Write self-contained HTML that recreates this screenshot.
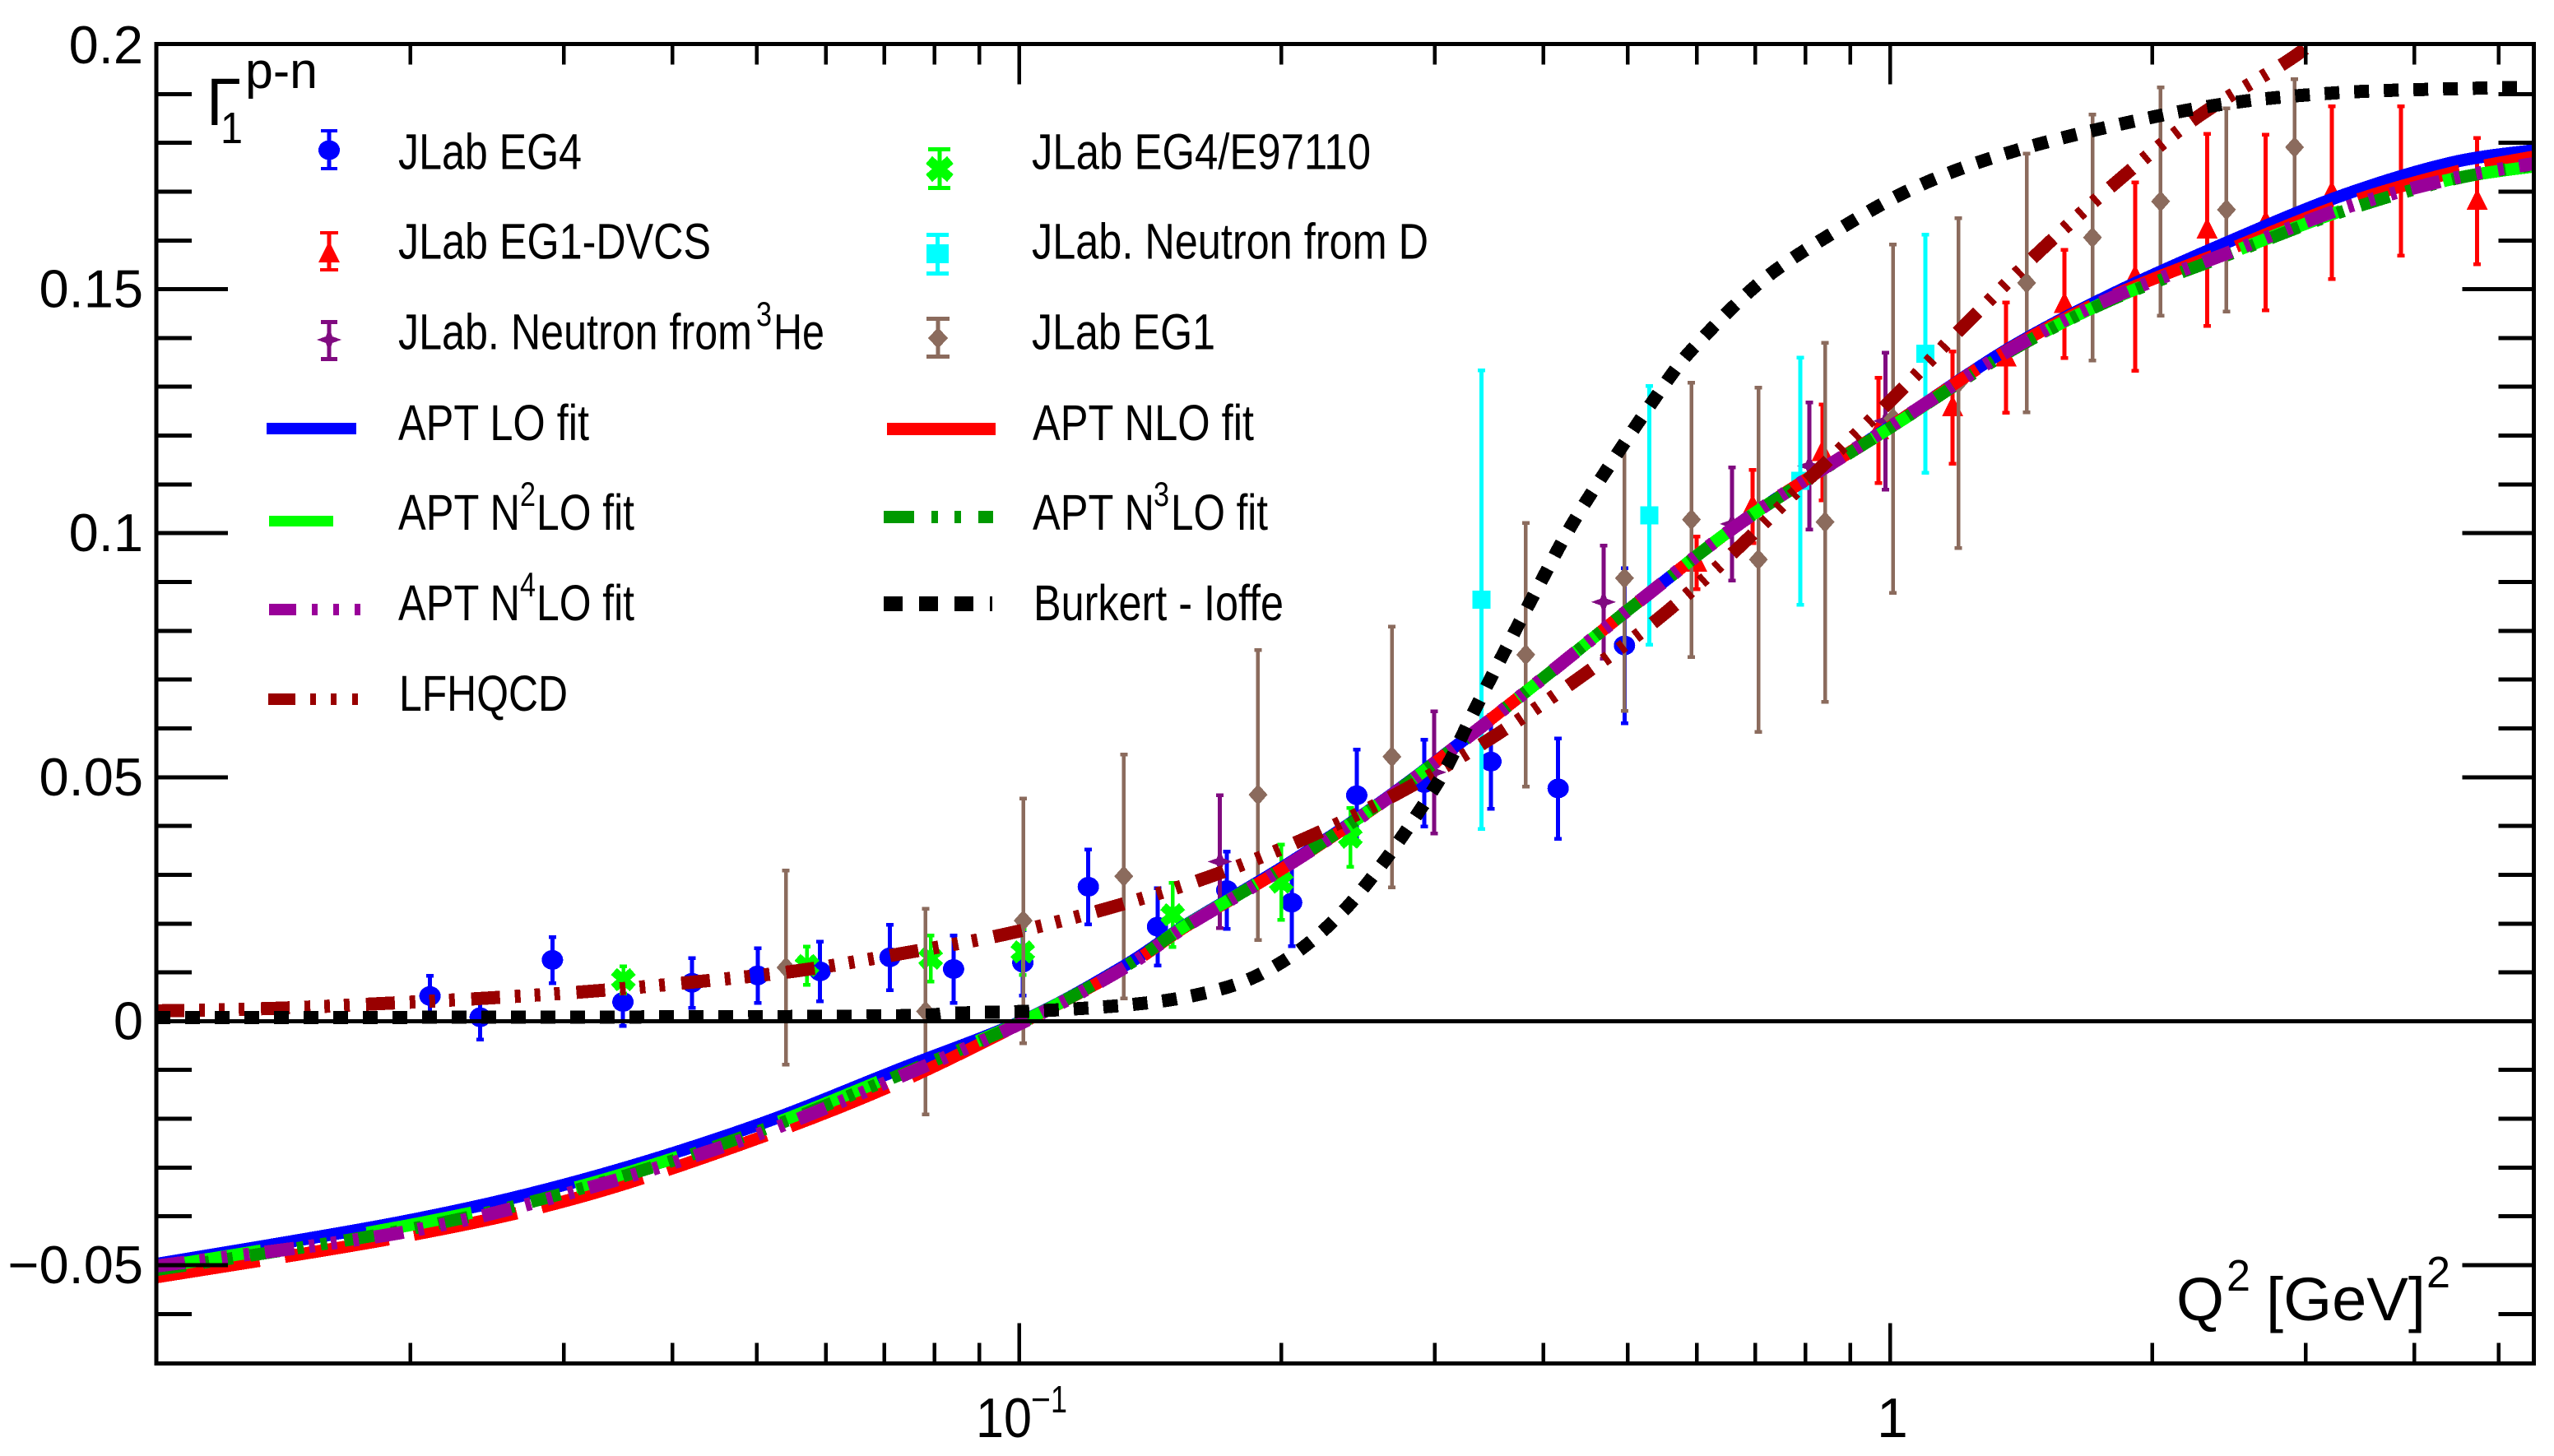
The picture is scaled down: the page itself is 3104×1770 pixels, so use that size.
<!DOCTYPE html>
<html lang="en">
<head>
<meta charset="utf-8">
<title>Gamma1 p-n versus Q2</title>
<style>
html,body{margin:0;padding:0;background:#fff;width:3104px;height:1770px;overflow:hidden}
svg{display:block}
text{font-family:"Liberation Sans",sans-serif;fill:#000}
</style>
</head>
<body>
<svg id="chart" xmlns="http://www.w3.org/2000/svg" width="3104" height="1770" viewBox="0 0 3104 1770">
  <defs>
    <clipPath id="plot-clip"><rect x="190" y="53" width="2890" height="1605"/></clipPath>
  </defs>
  <rect x="0" y="0" width="3104" height="1770" fill="#fff"/>
  <g id="points-layer" clip-path="url(#plot-clip)" shape-rendering="crispEdges"></g>
  <g id="curves-layer" clip-path="url(#plot-clip)" fill="none"></g>
  <g id="axes-layer"></g>

  <g>
    <text x="251" y="152" font-size="82" textLength="42" lengthAdjust="spacingAndGlyphs">Γ</text>
    <text x="268" y="174" font-size="54" textLength="27" lengthAdjust="spacingAndGlyphs">1</text>
    <text x="298" y="107" font-size="62" textLength="88" lengthAdjust="spacingAndGlyphs">p-n</text>
  </g>

  <g>
    <text x="2645" y="1605" font-size="74" textLength="58" lengthAdjust="spacingAndGlyphs">Q</text>
    <text x="2706" y="1569" font-size="54" textLength="29" lengthAdjust="spacingAndGlyphs">2</text>
    <text x="2754" y="1605" font-size="74" textLength="194" lengthAdjust="spacingAndGlyphs">[GeV]</text>
    <text x="2949" y="1565" font-size="54" textLength="29" lengthAdjust="spacingAndGlyphs">2</text>
  </g>

  <g font-size="61">
    <g>
      <g fill="#0000ff" shape-rendering="crispEdges"><rect x="397.5" y="157" width="5" height="50"/><rect x="390" y="157" width="20" height="4"/><rect x="390" y="203" width="20" height="4"/><ellipse cx="400" cy="182.5" rx="13" ry="12"/></g>
      <text x="484" y="205.5" textLength="223" lengthAdjust="spacingAndGlyphs">JLab EG4</text>
    </g>
    <g>
      <g fill="#ff0000" shape-rendering="crispEdges"><rect x="397.5" y="281" width="5" height="49"/><rect x="389" y="281" width="22" height="4"/><rect x="389" y="326" width="22" height="4"/><path d="M400 293 L413 319 L387 319 Z"/></g>
      <text x="484" y="314.5" textLength="380" lengthAdjust="spacingAndGlyphs">JLab EG1-DVCS</text>
    </g>
    <g>
      <g fill="#800a80" shape-rendering="crispEdges"><rect x="397.5" y="389" width="5" height="50"/><rect x="390" y="389" width="20" height="5"/><rect x="390" y="434" width="20" height="5"/><path d="M400 398 L404 409 L415 413 L404 417 L400 428 L396 417 L385 413 L396 409 Z"/></g>
      <text x="484" y="424.5" textLength="430" lengthAdjust="spacingAndGlyphs">JLab. Neutron from</text>
      <text x="919" y="396" font-size="42" textLength="19" lengthAdjust="spacingAndGlyphs">3</text>
      <text x="940" y="424.5" textLength="62" lengthAdjust="spacingAndGlyphs">He</text>
    </g>
    <g>
      <rect x="324" y="514" width="109" height="14" fill="#0000ff"/>
      <text x="484" y="535" textLength="232" lengthAdjust="spacingAndGlyphs">APT LO fit</text>
    </g>
    <g>
      <rect x="327" y="627" width="78" height="13" fill="#00ff00"/>
      <text x="484" y="644" textLength="148" lengthAdjust="spacingAndGlyphs">APT N</text>
      <text x="632" y="615" font-size="42" textLength="19" lengthAdjust="spacingAndGlyphs">2</text>
      <text x="652" y="644" textLength="119" lengthAdjust="spacingAndGlyphs">LO fit</text>
    </g>
    <g fill="#990099">
      <rect x="327" y="734" width="33" height="14"/><rect x="379" y="734" width="7" height="14"/><rect x="405" y="734" width="7" height="14"/><rect x="431" y="734" width="7" height="14"/>
      <text x="484" y="754" textLength="148" lengthAdjust="spacingAndGlyphs" style="fill:#000">APT N</text>
      <text x="632" y="725" font-size="42" textLength="19" lengthAdjust="spacingAndGlyphs" style="fill:#000">4</text>
      <text x="652" y="754" textLength="119" lengthAdjust="spacingAndGlyphs" style="fill:#000">LO fit</text>
    </g>
    <g fill="#990000">
      <rect x="326" y="843" width="33" height="14"/><rect x="377" y="843" width="7" height="14"/><rect x="402" y="843" width="7" height="14"/><rect x="428" y="843" width="7" height="14"/>
      <text x="485" y="864" textLength="205" lengthAdjust="spacingAndGlyphs" style="fill:#000">LFHQCD</text>
    </g>
    <g>
      <g shape-rendering="crispEdges"><rect x="1139.5" y="179" width="5" height="52" fill="#00ff00"/><rect x="1128" y="179" width="27" height="5" fill="#00ff00"/><rect x="1128" y="226" width="27" height="5" fill="#00ff00"/><path d="M1129 194.5 L1155 216.5 M1155 194.5 L1129 216.5" stroke="#00ff00" stroke-width="12" fill="none"/></g>
      <text x="1254" y="205.5" textLength="412" lengthAdjust="spacingAndGlyphs">JLab EG4/E97110</text>
    </g>
    <g>
      <g fill="#00ffff" shape-rendering="crispEdges"><rect x="1137" y="283" width="5" height="52"/><rect x="1126" y="283" width="27" height="5"/><rect x="1126" y="330" width="27" height="5"/><rect x="1126" y="297" width="27" height="23"/></g>
      <text x="1254" y="314.5" textLength="482" lengthAdjust="spacingAndGlyphs">JLab. Neutron from D</text>
    </g>
    <g>
      <g fill="#8b6b5d" shape-rendering="crispEdges"><rect x="1137.5" y="385" width="5" height="51"/><rect x="1126" y="385" width="28" height="5"/><rect x="1126" y="431" width="28" height="5"/><path d="M1140 398 L1152 411 L1140 424 L1128 411 Z"/></g>
      <text x="1254" y="424.5" textLength="223" lengthAdjust="spacingAndGlyphs">JLab EG1</text>
    </g>
    <g>
      <rect x="1078" y="514" width="132" height="15" fill="#ff0000"/>
      <text x="1255" y="535" textLength="269" lengthAdjust="spacingAndGlyphs">APT NLO fit</text>
    </g>
    <g fill="#009900">
      <rect x="1074" y="621" width="37" height="15"/><rect x="1132" y="621" width="8" height="15"/><rect x="1160" y="621" width="8" height="15"/><rect x="1189" y="621" width="18" height="15"/>
      <text x="1255" y="644" textLength="148" lengthAdjust="spacingAndGlyphs" style="fill:#000">APT N</text>
      <text x="1402" y="615" font-size="42" textLength="19" lengthAdjust="spacingAndGlyphs" style="fill:#000">3</text>
      <text x="1423" y="644" textLength="118" lengthAdjust="spacingAndGlyphs" style="fill:#000">LO fit</text>
    </g>
    <g fill="#000">
      <rect x="1074" y="725" width="23" height="18"/><rect x="1117" y="725" width="23" height="18"/><rect x="1160" y="725" width="23" height="18"/><rect x="1203" y="725" width="3" height="18"/>
      <text x="1256" y="754" textLength="304" lengthAdjust="spacingAndGlyphs">Burkert - Ioffe</text>
    </g>
  </g>
</svg>
<script>
// ---- Axis tick data ----
var xMinorTicks = [0.02,0.03,0.04,0.05,0.06,0.07,0.08,0.09,0.2,0.3,0.4,0.5,0.6,0.7,0.8,0.9,2,3,4,5];
var xMajorTicks = [0.1,1];
var yMinorTicks = [-0.06,-0.04,-0.03,-0.02,-0.01,0.01,0.02,0.03,0.04,0.06,0.07,0.08,0.09,0.11,0.12,0.13,0.14,0.16,0.17,0.18,0.19];
var yMajorTicks = [-0.05,0,0.05,0.1,0.15];
var yTickValues = [-0.05,0,0.05,0.1,0.15,0.2];
var yTickLabels = ['\u22120.05','0','0.05','0.1','0.15','0.2'];

// ---- Fit curves (common Q2 grid) ----
var fitQ2  = [0.0102,0.0197,0.0311,0.0491,0.0725,0.1016,0.1317,0.1557,0.2017,0.2575,0.319,0.401,0.519,0.691,1,1.356,1.784,2.424,3.29,4.4,5.5];
var aptLO  = [-0.0498,-0.0410,-0.0328,-0.0218,-0.0100,0.0003,0.0112,0.0198,0.0318,0.0443,0.0567,0.0705,0.0865,0.1035,0.1218,0.1374,0.1487,0.1594,0.1691,0.1759,0.1785];
var aptNLO = [-0.0525,-0.0441,-0.0362,-0.0246,-0.0127,0.0000,0.0108,0.0195,0.0315,0.0441,0.0566,0.0705,0.0865,0.1035,0.1218,0.1372,0.1483,0.1578,0.1672,0.1738,0.1772];
var aptN2LO= [-0.0505,-0.0420,-0.0340,-0.0228,-0.0108,0.0002,0.0110,0.0197,0.0316,0.0442,0.0566,0.0705,0.0865,0.1035,0.1216,0.1368,0.1477,0.1570,0.1660,0.1725,0.1752];
var aptN3LO= [-0.0510,-0.0428,-0.0345,-0.0232,-0.0112,0.0001,0.0110,0.0196,0.0316,0.0442,0.0566,0.0705,0.0865,0.1034,0.1216,0.1367,0.1476,0.1568,0.1658,0.1724,0.1755];
var aptN4LO= [-0.0502,-0.0432,-0.0348,-0.0238,-0.0116,0.0000,0.0108,0.0195,0.0315,0.0441,0.0566,0.0705,0.0865,0.1035,0.1218,0.1370,0.1480,0.1572,0.1664,0.1726,0.1758];

var lfhqcdQ2 = [0.0102,0.01407,0.0185,0.02435,0.03206,0.0422,0.0555,0.073,0.0963,0.1257,0.1642,0.2129,0.2716,0.3442,0.4362,0.5439,0.667,0.811,0.993,1.208,1.47,1.807,2.246,2.84,3.05,3.3];
var lfhqcd   = [0.0021,0.00265,0.0036,0.0047,0.0061,0.008,0.0103,0.0138,0.0178,0.023,0.0294,0.0374,0.0466,0.0574,0.0699,0.0827,0.0967,0.1115,0.1265,0.142,0.157,0.1715,0.1851,0.1964,0.2004,0.2050];

var burkertQ2 = [0.0102,0.0618,0.0845,0.1063,0.1346,0.158,0.1827,0.2086,0.2349,0.2597,0.2843,0.308,0.331,0.355,0.395,0.4427,0.5486,0.6066,0.717,0.876,1.067,1.335,1.784,2.424,3.29,4.48,5.5];
var burkert   = [0.0007,0.0010,0.00165,0.00216,0.0034,0.0052,0.0084,0.0142,0.0223,0.0316,0.0415,0.0513,0.0626,0.0733,0.0892,0.1051,0.130,0.1396,0.1521,0.1624,0.1708,0.1774,0.1833,0.188,0.1903,0.1911,0.1914];

// ---- Data points ----
var eg4Q2  = [0.02107,0.02406,0.02912,0.03509,0.04212,0.0501,0.0591,0.0711,0.0841,0.1010,0.1201,0.1442,0.1732,0.2056,0.2442,0.2920,0.3482,0.4159,0.4956];
var eg4Val = [0.00516,0.0008,0.01256,0.00394,0.00787,0.00937,0.0102,0.0131,0.01069,0.012,0.02755,0.01937,0.02687,0.0243,0.0463,0.0488,0.0532,0.0477,0.077];
var eg4Err = [0.0042,0.0045,0.0047,0.0049,0.0051,0.0056,0.0061,0.0067,0.0069,0.0067,0.0077,0.0079,0.0079,0.0089,0.0094,0.0089,0.0096,0.0103,0.0159];

var dvcsQ2  = [0.5998,0.6953,0.8362,0.97,1.18,1.359,1.586,1.912,2.312,2.7,3.215,3.861,4.723];
var dvcsVal = [0.094,0.1055,0.1166,0.1211,0.1258,0.136,0.147,0.1526,0.1622,0.1637,0.1698,0.1722,0.1681];
var dvcsErr = [0.0054,0.0075,0.0098,0.0108,0.0115,0.0113,0.0111,0.0193,0.0197,0.018,0.0177,0.0153,0.0129];

var he3Q2  = [0.1701,0.2997,0.469,0.6586,0.808,0.988];
var he3Val = [0.0327,0.051,0.0859,0.1019,0.1138,0.123];
var he3Err = [0.0136,0.0125,0.0116,0.0116,0.013,0.014];

var e97Q2  = [0.03513,0.05708,0.07916,0.101,0.1501,0.2,0.2401];
var e97Val = [0.0085,0.0114,0.0129,0.0142,0.0218,0.0285,0.0377];
var e97Err = [0.0028,0.0039,0.0047,0.0047,0.0066,0.0077,0.006];

var deutQ2  = [0.3395,0.5295,0.7889,1.098];
var deutVal = [0.0864,0.1037,0.1107,0.1368];
var deutErr = [0.047,0.0265,0.0253,0.0244];

var eg1Q2  = [0.054,0.0781,0.1011,0.1319,0.1881,0.268,0.3818,0.4956,0.5916,0.7061,0.8422,1.008,1.198,1.435,1.708,2.045,2.434,2.914];
var eg1Val = [0.011,0.002,0.0206,0.0297,0.0464,0.0542,0.0751,0.0908,0.1028,0.0946,0.1023,0.1235,0.1308,0.1513,0.1606,0.168,0.1663,0.1791];
var eg1Err = [0.0199,0.0211,0.0251,0.025,0.0297,0.0267,0.027,0.0272,0.0281,0.0353,0.0368,0.0357,0.0338,0.0265,0.0252,0.0234,0.0208,0.014];

// ---- Axis functions ----
function xAxis(q){ return 2297 + 1058.5 * Math.log10(q); }
function yAxis(v){ return 1241.4 - 5932 * v; }

var NS = 'http://www.w3.org/2000/svg';
function mk(tag, attrs, parent){
  var el = document.createElementNS(NS, tag);
  for (var k in attrs) el.setAttribute(k, attrs[k]);
  parent.appendChild(el);
  return el;
}

// Smooth path through the series points (Catmull-Rom to Bezier)
function smoothPath(qs, vs){
  var p = qs.map(function(q, i){ return [xAxis(q), yAxis(vs[i])]; });
  var d = 'M' + p[0][0].toFixed(1) + ' ' + p[0][1].toFixed(1);
  for (var i = 0; i < p.length - 1; i++){
    var p0 = p[Math.max(i-1,0)], p1 = p[i], p2 = p[i+1], p3 = p[Math.min(i+2,p.length-1)];
    var c1x = p1[0] + (p2[0]-p0[0])/6, c1y = p1[1] + (p2[1]-p0[1])/6;
    var c2x = p2[0] - (p3[0]-p1[0])/6, c2y = p2[1] - (p3[1]-p1[1])/6;
    d += 'C' + c1x.toFixed(1) + ' ' + c1y.toFixed(1) + ' ' + c2x.toFixed(1) + ' ' + c2y.toFixed(1) + ' ' + p2[0].toFixed(1) + ' ' + p2[1].toFixed(1);
  }
  return d;
}

// ---- Points ----
var pointsLayer = document.getElementById('points-layer');
function drawMarker(kind, x, y, color, parent){
  if (kind === 'circle') mk('ellipse', {cx:x, cy:y, rx:13, ry:12, fill:color}, parent);
  if (kind === 'triangle') mk('path', {d:'M'+x+' '+(y-15)+' L'+(x+13)+' '+(y+11)+' L'+(x-13)+' '+(y+11)+' Z', fill:color}, parent);
  if (kind === 'star') mk('path', {d:'M'+x+' '+(y-15)+' L'+(x+4)+' '+(y-4)+' L'+(x+15)+' '+y+' L'+(x+4)+' '+(y+4)+' L'+x+' '+(y+15)+' L'+(x-4)+' '+(y+4)+' L'+(x-15)+' '+y+' L'+(x-4)+' '+(y-4)+' Z', fill:color}, parent);
  if (kind === 'cross') mk('path', {d:'M'+(x-11.5)+' '+(y-10)+' L'+(x+11.5)+' '+(y+10)+' M'+(x+11.5)+' '+(y-10)+' L'+(x-11.5)+' '+(y+10), stroke:color, 'stroke-width':11, fill:'none'}, parent);
  if (kind === 'square') mk('rect', {x:x-11, y:y-11, width:22, height:22, fill:color}, parent);
  if (kind === 'diamond') mk('path', {d:'M'+x+' '+(y-13)+' L'+(x+11.5)+' '+y+' L'+x+' '+(y+13)+' L'+(x-11.5)+' '+y+' Z', fill:color}, parent);
}
function drawSeries(name, kind, color, qs, vals, errs, lineW){
  var group = mk('g', {}, pointsLayer);
  
  
  qs.forEach(function(q, i){
    var g = mk('g', {}, group);
    
    
    var x = xAxis(q), y = yAxis(vals[i]);
    var top = yAxis(vals[i] + errs[i]), bot = yAxis(vals[i] - errs[i]);
    mk('rect', {x:x-lineW/2, y:top, width:lineW, height:bot-top, fill:color}, g);
    mk('rect', {x:x-4.5, y:top-2, width:9, height:4.5, fill:color}, g);
    mk('rect', {x:x-4.5, y:bot-2, width:9, height:4.5, fill:color}, g);
    drawMarker(kind, x, y, color, g);
  });
}
drawSeries('jlab-eg4', 'circle', '#0000ff', eg4Q2, eg4Val, eg4Err, 5);
drawSeries('jlab-eg1-dvcs', 'triangle', '#ff0000', dvcsQ2, dvcsVal, dvcsErr, 5);
drawSeries('jlab-neutron-3he', 'star', '#800a80', he3Q2, he3Val, he3Err, 5);
drawSeries('jlab-eg4-e97110', 'cross', '#00ff00', e97Q2, e97Val, e97Err, 4.5);
drawSeries('jlab-neutron-d', 'square', '#00ffff', deutQ2, deutVal, deutErr, 5);
drawSeries('jlab-eg1', 'diamond', '#8b6b5d', eg1Q2, eg1Val, eg1Err, 4.5);

// ---- Curves ----
var curvesLayer = document.getElementById('curves-layer');
function drawCurve(name, qs, vs, color, width, dash){
  var attrs = {d:smoothPath(qs, vs), stroke:color, 'stroke-width':width, 'stroke-linecap':'butt', 'stroke-linejoin':'round', 'shape-rendering':'crispEdges'};
  if (dash) attrs['stroke-dasharray'] = dash;
  var el = mk('path', attrs, curvesLayer);
  
  
}
drawCurve('apt-lo-fit-curve', fitQ2, aptLO, '#0000ff', 15, '');
drawCurve('apt-nlo-fit-curve', fitQ2, aptNLO, '#ff0000', 15, '128 31');
drawCurve('apt-n2lo-fit-curve', fitQ2, aptN2LO, '#00ff00', 15, '130 130');
drawCurve('apt-n3lo-fit-curve', fitQ2, aptN3LO, '#009900', 15, '37 21 8 21 8 21');
drawCurve('apt-n4lo-fit-curve', fitQ2, aptN4LO, '#990099', 16, '36 18 7 20 7 20 7 19');
drawCurve('lfhqcd-curve', lfhqcdQ2, lfhqcd, '#990000', 16, '35 18 7 17 7 17 7 20');
drawCurve('burkert-ioffe-curve', burkertQ2, burkert, '#000000', 16, '18 18');

// ---- Axes ----
var axesLayer = document.getElementById('axes-layer');
var zeroLine = mk('line', {x1:190, x2:3079.5, y1:yAxis(0), y2:yAxis(0), stroke:'#000', 'stroke-width':5, 'shape-rendering':'crispEdges'}, axesLayer);


var frame = mk('rect', {x:190, y:53.4, width:2889.5, height:1604, fill:'none', stroke:'#000', 'stroke-width':5, 'shape-rendering':'crispEdges'}, axesLayer);



function xTick(q, len){
  var x = xAxis(q);
  var t1 = mk('line', {x1:x, x2:x, y1:53.4, y2:53.4+len, stroke:'#000', 'stroke-width':4.5, 'shape-rendering':'crispEdges'}, axesLayer);
  
  
  var t2 = mk('line', {x1:x, x2:x, y1:1657.4, y2:1657.4-len, stroke:'#000', 'stroke-width':4.5, 'shape-rendering':'crispEdges'}, axesLayer);
  
  
}
function yTick(v, len){
  var y = yAxis(v);
  var t1 = mk('line', {x1:190, x2:190+len, y1:y, y2:y, stroke:'#000', 'stroke-width':5, 'shape-rendering':'crispEdges'}, axesLayer);
  
  
  var t2 = mk('line', {x1:3079.5, x2:3079.5-len, y1:y, y2:y, stroke:'#000', 'stroke-width':5, 'shape-rendering':'crispEdges'}, axesLayer);
  
  
}
xMinorTicks.forEach(function(q){ xTick(q, 25); });
xMajorTicks.forEach(function(q){ xTick(q, 49); });
yMinorTicks.forEach(function(v){ yTick(v, 43); });
yMajorTicks.forEach(function(v){ yTick(v, 87); });

yTickValues.forEach(function(v, i){
  var t = mk('text', {x:174, y:yAxis(v)+22, 'font-size':65, 'text-anchor':'end'}, axesLayer);
  t.textContent = yTickLabels[i];
  
  
});

// x tick labels
var xLabelA = mk('g', {}, axesLayer);


var xMantissa = mk('text', {x:1186, y:1747, 'font-size':68, textLength:68, lengthAdjust:'spacingAndGlyphs'}, xLabelA);
xMantissa.textContent = '10';
var xExpMinus = mk('text', {x:1253, y:1717, 'font-size':46, textLength:24, lengthAdjust:'spacingAndGlyphs'}, xLabelA);
xExpMinus.textContent = '\u2212';
var xExpOne = mk('text', {x:1277, y:1717, 'font-size':46, textLength:20, lengthAdjust:'spacingAndGlyphs'}, xLabelA);
xExpOne.textContent = '1';
var xLabelB = mk('text', {x:2281, y:1747, 'font-size':68}, axesLayer);
xLabelB.textContent = '1';


</script>
</body>
</html>
